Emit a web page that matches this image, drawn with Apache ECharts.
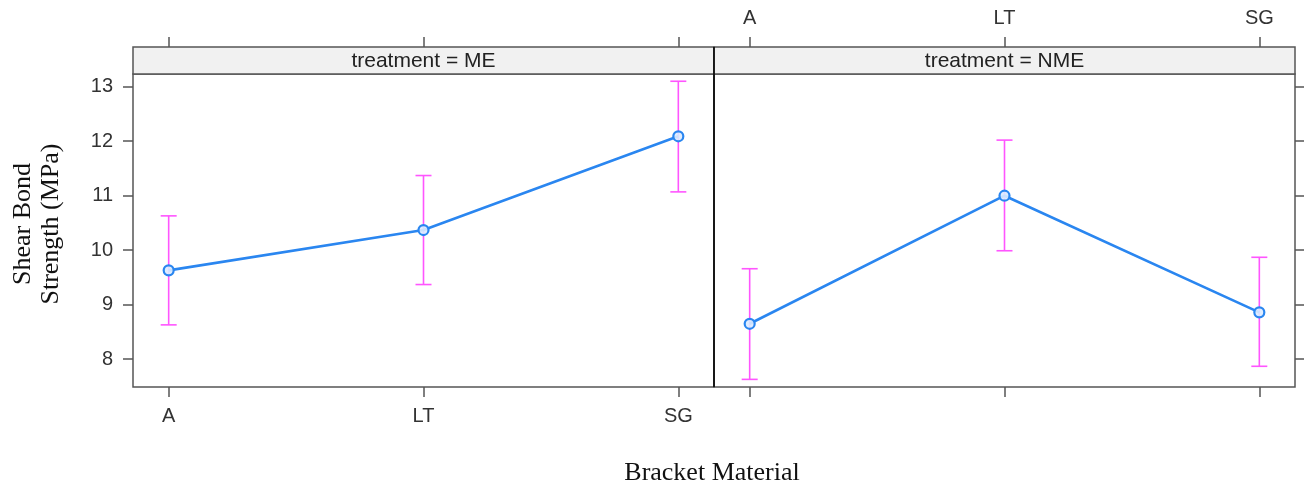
<!DOCTYPE html>
<html>
<head>
<meta charset="utf-8">
<script src="https://cdn.jsdelivr.net/npm/echarts@6/dist/echarts.min.js"></script>
<style>
html,body{margin:0;padding:0;background:#fff;}
#chart{width:1304px;height:488px;}
</style>
</head>
<body>
<div id="chart"></div>
<script>
// ---- data ----
const categories = ['A', 'LT', 'SG'];
const panels = ['ME', 'NME'];
const meMean  = [9.63, 10.37, 12.09];
const meLower = [8.63, 9.37, 11.07];
const meUpper = [10.63, 11.37, 13.10];
const nmeMean  = [8.65, 11.00, 8.86];
const nmeLower = [7.63, 9.99, 7.87];
const nmeUpper = [9.66, 12.02, 9.87];
const yTicks = [8, 9, 10, 11, 12, 13];
const xTitle = 'Bracket Material';
const yTitleLines = ['Shear Bond', 'Strength (MPa)'];

const chart = echarts.init(document.getElementById('chart'));

const LINE = '#2a86f0';
const ERR = '#ff55ff';
const AX = '#555';
const labelFont = {fontFamily: 'Liberation Sans, Arial, sans-serif', fontSize: 20, color: '#333'};

const xPos = [1, 2, 3];
function pts(arr){ return arr.map((v,i)=>[xPos[i], v]); }
function errData(lo, hi){ return lo.map((v,i)=>[xPos[i], v, hi[i]]); }

function errSeries(idx, lo, hi){
  return {
    type: 'custom', xAxisIndex: idx, yAxisIndex: idx, z: 2,
    data: errData(lo, hi),
    renderItem: function(params, api){
      const x = api.value(0);
      const p1 = api.coord([x, api.value(1)]);
      const p2 = api.coord([x, api.value(2)]);
      const hw = 8;
      const st = {stroke: ERR, lineWidth: 1.6};
      return {type: 'group', children: [
        {type: 'line', shape: {x1: p1[0], y1: p1[1], x2: p2[0], y2: p2[1]}, style: st},
        {type: 'line', shape: {x1: p1[0]-hw, y1: p1[1], x2: p1[0]+hw, y2: p1[1]}, style: st},
        {type: 'line', shape: {x1: p2[0]-hw, y1: p2[1], x2: p2[0]+hw, y2: p2[1]}, style: st}
      ]};
    }
  };
}
function lineSeries(idx, mean){
  return {
    type: 'line', xAxisIndex: idx, yAxisIndex: idx, z: 3,
    data: pts(mean),
    lineStyle: {color: LINE, width: 2.6},
    symbol: 'circle', symbolSize: 10,
    itemStyle: {color: 'rgba(220,235,255,0.9)', borderColor: LINE, borderWidth: 2.2},
    emphasis: {disabled: true}
  };
}

const yMin = 7.49, yMax = 13.233;
const xMin = 0.86, xMax = 3.14;

function xBottom(gi, showLabels){
  return {
    type: 'value', gridIndex: gi, position: 'bottom', min: xMin, max: xMax,
    axisLine: {show: false},
    splitLine: {show: false},
    axisTick: {show: true, length: 10, inside: false, customValues: xPos, lineStyle: {color: AX, width: 1.5}},
    axisLabel: {show: showLabels, margin: 19, customValues: xPos, formatter: v => categories[Math.round(v)-1], ...labelFont}
  };
}
function xTop(gi, showLabels){
  return {
    type: 'value', gridIndex: gi, position: 'top', offset: 27, min: xMin, max: xMax,
    axisLine: {show: false},
    splitLine: {show: false},
    axisTick: {show: true, length: 10, inside: false, customValues: xPos, lineStyle: {color: AX, width: 1.5}},
    axisLabel: {show: showLabels, margin: 19, customValues: xPos, formatter: v => categories[Math.round(v)-1], ...labelFont}
  };
}
function yAx(gi, pos, showLabels){
  return {
    type: 'value', gridIndex: gi, position: pos, min: yMin, max: yMax,
    axisLine: {show: false},
    splitLine: {show: false},
    axisTick: {show: true, length: 10, customValues: yTicks, lineStyle: {color: AX, width: 1.5}},
    axisLabel: {show: showLabels, margin: 20, customValues: yTicks, ...labelFont}
  };
}

const gL = {left: 133, width: 581, top: 74, height: 313};
const gR = {left: 714, width: 581, top: 74, height: 313};

chart.setOption({
  animation: false,
  backgroundColor: '#fff',
  grid: [
    Object.assign({show: true, borderColor: AX, borderWidth: 1.5, backgroundColor: 'transparent'}, gL),
    Object.assign({show: true, borderColor: AX, borderWidth: 1.5, backgroundColor: 'transparent'}, gR),
    Object.assign({show: false}, gL),
    Object.assign({show: false}, gR)
  ],
  xAxis: [xBottom(0, true), xBottom(1, false), xTop(2, false), xTop(3, true)],
  yAxis: [yAx(0, 'left', true), yAx(1, 'right', false), yAx(2, 'left', false), yAx(3, 'right', false)],
  series: [
    errSeries(0, meLower, meUpper),
    lineSeries(0, meMean),
    errSeries(1, nmeLower, nmeUpper),
    lineSeries(1, nmeMean)
  ],
  graphic: [
    {type: 'rect', shape: {x: 133, y: 47, width: 581, height: 27}, style: {fill: '#f1f1f1', stroke: AX, lineWidth: 1.5}, z: 10},
    {type: 'rect', shape: {x: 714, y: 47, width: 581, height: 27}, style: {fill: '#f1f1f1', stroke: AX, lineWidth: 1.5}, z: 10},
    {type: 'text', x: 423.5, y: 61, style: {text: 'treatment = ' + panels[0], align: 'center', verticalAlign: 'middle', font: '21px "Liberation Sans", Arial, sans-serif', fill: '#222'}, z: 11},
    {type: 'text', x: 1004.5, y: 61, style: {text: 'treatment = ' + panels[1], align: 'center', verticalAlign: 'middle', font: '21px "Liberation Sans", Arial, sans-serif', fill: '#222'}, z: 11},
    {type: 'line', shape: {x1: 714, y1: 47, x2: 714, y2: 387}, style: {stroke: '#000', lineWidth: 1.5}, z: 12},
    {type: 'text', x: 712, y: 473, style: {text: xTitle, align: 'center', verticalAlign: 'middle', font: '26px "Liberation Serif", "Times New Roman", serif', fill: '#111'}},
    {type: 'text', x: 23, y: 224, rotation: Math.PI/2, style: {text: yTitleLines[0], align: 'center', verticalAlign: 'middle', font: '26px "Liberation Serif", "Times New Roman", serif', fill: '#111'}},
    {type: 'text', x: 51, y: 224, rotation: Math.PI/2, style: {text: yTitleLines[1], align: 'center', verticalAlign: 'middle', font: '26px "Liberation Serif", "Times New Roman", serif', fill: '#111'}}
  ]
});
</script>
</body>
</html>
